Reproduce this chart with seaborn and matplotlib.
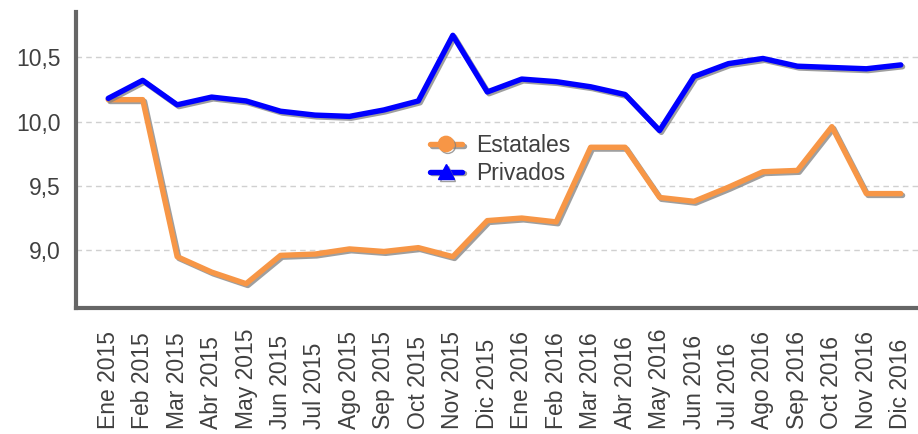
import matplotlib
matplotlib.use("Agg")
import matplotlib.pyplot as plt
import matplotlib.patheffects as pe
from matplotlib.lines import Line2D
import seaborn as sns
import pandas as pd

months = ["Ene 2015", "Feb 2015", "Mar 2015", "Abr 2015", "May 2015", "Jun 2015",
          "Jul 2015", "Ago 2015", "Sep 2015", "Oct 2015", "Nov 2015", "Dic 2015",
          "Ene 2016", "Feb 2016", "Mar 2016", "Abr 2016", "May 2016", "Jun 2016",
          "Jul 2016", "Ago 2016", "Sep 2016", "Oct 2016", "Nov 2016", "Dic 2016"]
estatales = [10.17, 10.17, 8.95, 8.83, 8.74, 8.96, 8.97, 9.01, 8.99, 9.02, 8.95, 9.23,
             9.25, 9.22, 9.80, 9.80, 9.41, 9.38, 9.49, 9.61, 9.62, 9.96, 9.44, 9.44]
privados = [10.18, 10.32, 10.13, 10.19, 10.16, 10.08, 10.05, 10.04, 10.09, 10.16, 10.67, 10.23,
            10.33, 10.31, 10.27, 10.21, 9.93, 10.35, 10.45, 10.49, 10.43, 10.42, 10.41, 10.44]
yticks = [9.0, 9.5, 10.0, 10.5]
ytick_labels = ["9,0", "9,5", "10,0", "10,5"]

sns.set_style("white")
plt.rcParams["font.family"] = ["Liberation Sans", "DejaVu Sans"]

df = pd.DataFrame({
    "idx": list(range(len(months))) * 2,
    "valor": estatales + privados,
    "serie": ["Estatales"] * len(months) + ["Privados"] * len(months),
})
colors = {"Estatales": "#F79646", "Privados": "#0000FF"}
shadow = [pe.SimpleLineShadow(offset=(1.3, -1.3), shadow_color="#7f7f7f", alpha=0.75), pe.Normal()]

fig = plt.figure(figsize=(9.18, 4.34), dpi=100)
ax = fig.add_axes([0.083, 0.29, 0.917, 0.682])

sns.lineplot(data=df, x="idx", y="valor", hue="serie", palette=colors, sort=False,
             linewidth=3.9, ax=ax, legend=False, zorder=3, path_effects=shadow)

ax.set_ylim(8.55, 10.85)
ax.set_xlim(-0.93, 23.5)
ax.set_yticks(yticks)
ax.set_yticklabels(ytick_labels)
ax.set_xticks(range(len(months)))
ax.set_xticklabels(months, rotation=90, ha="left", va="center", rotation_mode="anchor")
ax.tick_params(axis="x", labelsize=16.5, colors="#404040", length=0, pad=87)
ax.tick_params(axis="y", labelsize=16.5, labelcolor="#404040", length=3, color="#666666",
               width=1, pad=8)
ax.set_xlabel("")
ax.set_ylabel("")
ax.yaxis.grid(True, linestyle=(0, (4, 3)), color="#d0d0d0", linewidth=1)
ax.set_axisbelow(True)
for s in ["top", "right"]:
    ax.spines[s].set_visible(False)
for s in ["left", "bottom"]:
    ax.spines[s].set_color("#666666")
    ax.spines[s].set_linewidth(3)

handles = [
    Line2D([], [], color=colors["Estatales"], marker="o", markersize=11, linewidth=3.9,
           path_effects=shadow),
    Line2D([], [], color=colors["Privados"], marker="^", markersize=11, linewidth=3.9,
           path_effects=shadow),
]
leg = ax.legend(handles, ["Estatales", "Privados"], loc="upper left",
                bbox_to_anchor=(430 / 918, 1 - 134 / 434), bbox_transform=fig.transFigure,
                frameon=False, fontsize=16.5, borderpad=0, borderaxespad=0,
                handlelength=1.4, handletextpad=0.6, labelspacing=0.2)
for t in leg.get_texts():
    t.set_color("#404040")

fig.savefig("out.png", dpi=100)
